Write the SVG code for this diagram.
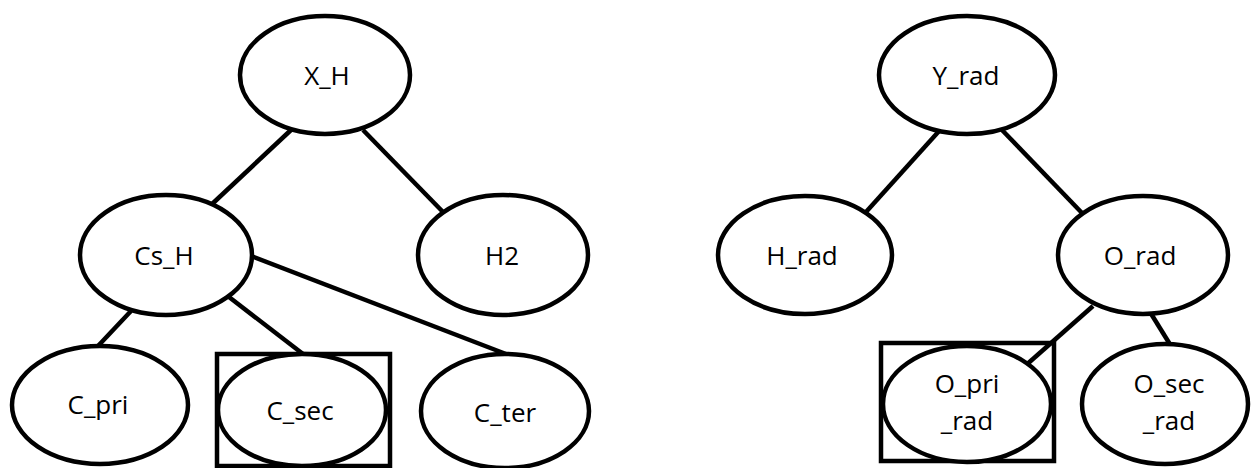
<svg xmlns="http://www.w3.org/2000/svg" width="1251" height="468" viewBox="0 0 1251 468">
<style>
.n{fill:#fff;stroke:#000;stroke-width:4.5}
.b{fill:none;stroke:#000;stroke-width:4.5}
.c line{stroke:#000;stroke-width:4.5}
text{font-family:"Open Sans","Noto Sans",sans-serif;font-size:26px;fill:#000;text-anchor:middle}
</style>
<rect width="1251" height="468" fill="#fff"/>
<g class="c" id="connectors">
<line x1="291" y1="130" x2="211" y2="205"/>
<line x1="363" y1="130" x2="443" y2="212"/>
<line x1="131" y1="311" x2="98" y2="346"/>
<line x1="229" y1="297" x2="303" y2="354"/>
<line x1="251" y1="256" x2="506" y2="354"/>
<line x1="940" y1="130" x2="866" y2="212"/>
<line x1="1002" y1="130" x2="1082" y2="213"/>
<line x1="1093" y1="306" x2="1025" y2="366"/>
<line x1="1150" y1="312" x2="1171" y2="346"/>
</g>
<g id="X_H"><ellipse class="n" cx="325" cy="75" rx="85" ry="59"/><text x="327" y="85">X_H</text></g>
<g id="Cs_H"><ellipse class="n" cx="166" cy="255" rx="86" ry="60"/><text x="164" y="265">Cs_H</text></g>
<g id="H2"><ellipse class="n" cx="503" cy="255" rx="85" ry="60"/><text x="502" y="265">H2</text></g>
<g id="C_pri"><ellipse class="n" cx="100" cy="405" rx="88" ry="59"/><text x="98" y="414">C_pri</text></g>
<g id="C_sec"><rect class="b" x="217" y="354" width="173" height="112"/><ellipse class="n" cx="302" cy="410" rx="84" ry="56"/><text x="300" y="420">C_sec</text></g>
<g id="C_ter"><ellipse class="n" cx="505" cy="411" rx="84" ry="57"/><text x="505" y="422">C_ter</text></g>
<g id="Y_rad"><ellipse class="n" cx="967" cy="75" rx="88" ry="59"/><text x="966" y="85">Y_rad</text></g>
<g id="H_rad"><ellipse class="n" cx="805" cy="255" rx="87" ry="59"/><text x="802" y="265">H_rad</text></g>
<g id="O_rad"><ellipse class="n" cx="1143" cy="255" rx="85" ry="59"/><text x="1140" y="265">O_rad</text></g>
<g id="O_pri_rad"><rect class="b" x="881" y="343" width="173" height="118"/><ellipse class="n" cx="967" cy="404" rx="84" ry="58"/><text x="967" y="393">O_pri</text><text x="967" y="430">_rad</text></g>
<g id="O_sec_rad"><ellipse class="n" cx="1165" cy="404" rx="83" ry="60"/><text x="1169" y="393">O_sec</text><text x="1169" y="430">_rad</text></g>
</svg>
